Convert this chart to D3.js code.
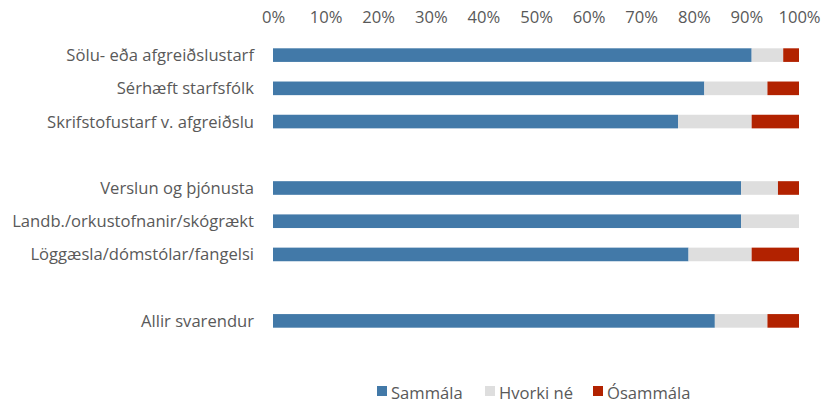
<!DOCTYPE html>
<html><head><meta charset="utf-8">
<script src="https://cdn.jsdelivr.net/npm/d3@7"></script>
<style>body{margin:0;background:#fff}svg{display:block}text{font-family:"Open Sans",sans-serif;fill:#595959}</style>
</head><body><svg id="c" width="828" height="403"></svg>
<script>
const categories = ["Sölu- eða afgreiðslustarf","Sérhæft starfsfólk","Skrifstofustarf v. afgreiðslu","","Verslun og þjónusta","Landb./orkustofnanir/skógrækt","Löggæsla/dómstólar/fangelsi","","Allir svarendur"];
const sammala   = [91,82,77,null,89,89,79,null,84];
const hvorki    = [6,12,14,null,7,11,12,null,10];
const osammala  = [3,6,9,null,4,0,9,null,6];
const seriesNames = ["Sammála","Hvorki né","Ósammála"];
const colors = ["#4279A8","#DEDEDE","#B22200"];
const tickValues = [0,0.1,0.2,0.3,0.4,0.5,0.6,0.7,0.8,0.9,1];
const FS = "16.6px";

const svg = d3.select("#c");
const x = d3.scaleLinear().domain([0,1]).range([273,799]);
const y = d3.scaleBand().domain(d3.range(categories.length)).range([38.5,337.5]).paddingInner(0.59).paddingOuter(0.295);

const rows = categories.map((c,i)=>({i, vals:[sammala[i],hvorki[i],osammala[i]]})).filter(r=>r.vals[0]!==null);
const stackData = rows.map(r=>{const t=d3.sum(r.vals);return {i:r.i, s0:r.vals[0]/t, s1:r.vals[1]/t, s2:r.vals[2]/t};});
const stack = d3.stack().keys(["s0","s1","s2"])(stackData);

const axis = d3.axisTop(x).tickValues(tickValues).tickFormat(d3.format(".0%")).tickSize(0).tickPadding(0);
const ag = svg.append("g").attr("transform","translate(0,23)").call(axis);
ag.select(".domain").remove();
ag.selectAll("text").style("font-size",FS).attr("fill","#595959").style("font-family","'Open Sans',sans-serif");

stack.forEach((layer,k)=>{
  svg.append("g").selectAll("rect").data(layer).join("rect")
    .attr("x",d=>x(d[0])).attr("width",d=>Math.max(0,x(d[1])-x(d[0])))
    .attr("y",d=>y(d.data.i)).attr("height",y.bandwidth())
    .attr("fill",colors[k]);
});

svg.append("g").selectAll("text").data(categories.map((c,i)=>({c,i})).filter(d=>d.c)).join("text")
  .attr("x",254).attr("y",d=>y(d.i)+y.bandwidth()/2).attr("dy","0.36em")
  .attr("text-anchor","end").style("font-size",FS).text(d=>d.c);

const legX = [377,485,593];
const lg = svg.append("g");
seriesNames.forEach((n,k)=>{
  lg.append("rect").attr("x",legX[k]).attr("y",386).attr("width",10).attr("height",10).attr("fill",colors[k]);
  lg.append("text").attr("x",legX[k]+14).attr("y",398.5).style("font-size",FS).text(n);
});
</script></body></html>
